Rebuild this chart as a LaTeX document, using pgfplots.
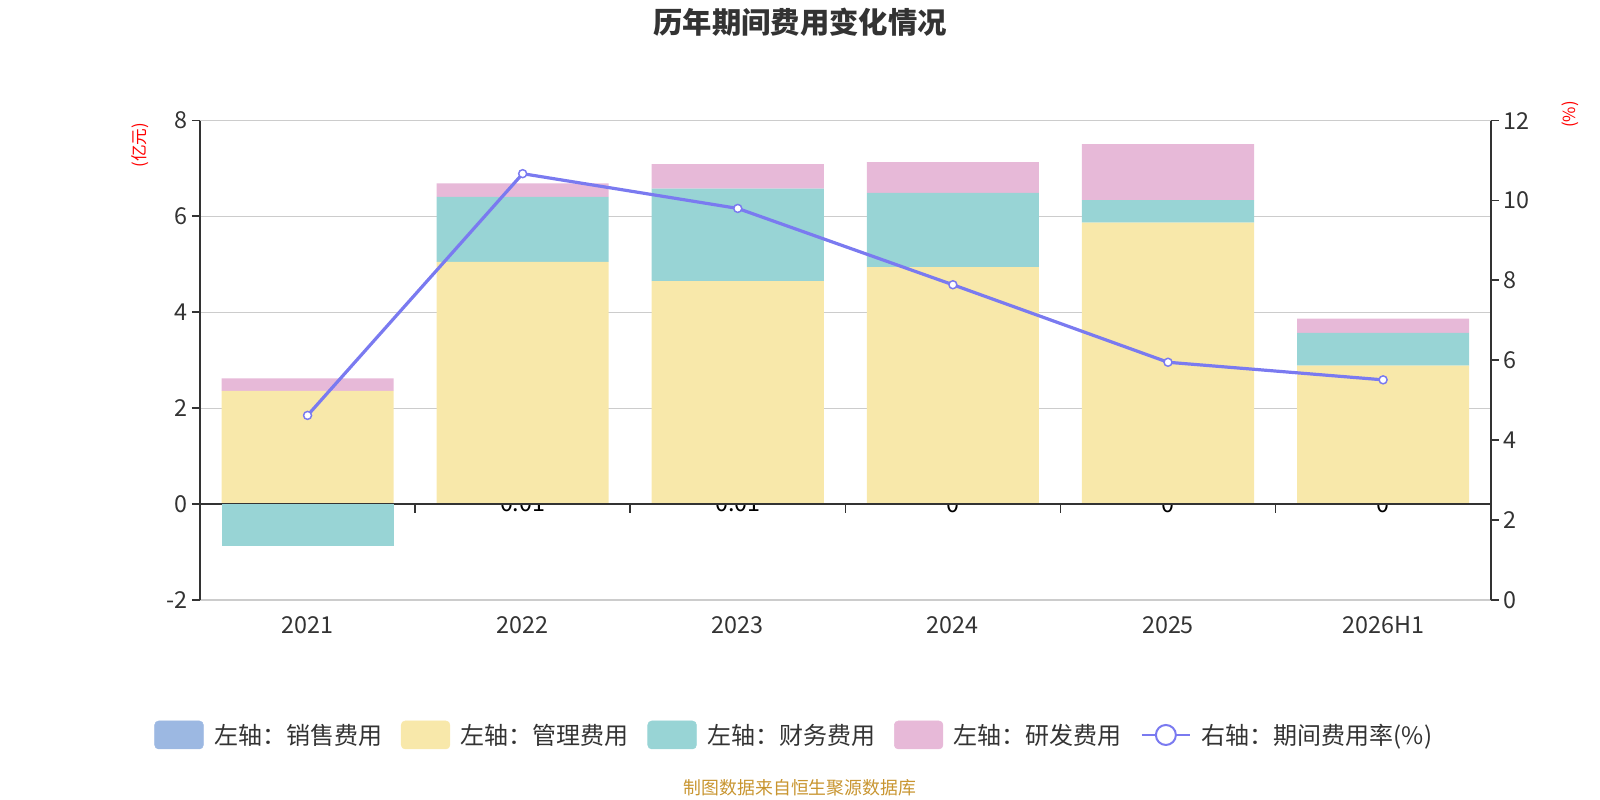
\documentclass[border=0pt]{standalone}
\usepackage{fontspec}
\setmainfont{Noto Sans CJK SC}
\usepackage{pgfplots}
\usepackage{pgfplotstable}
\pgfplotsset{compat=1.18}

\definecolor{salesc}{HTML}{9CB8E2}
\definecolor{mgmtc}{HTML}{F8E8AA}
\definecolor{finc}{HTML}{98D4D5}
\definecolor{rdc}{HTML}{E7B9D8}
\definecolor{linec}{HTML}{7A7AF0}
\definecolor{axc}{HTML}{333333}
\definecolor{gridc}{HTML}{CCCCCC}
\definecolor{footc}{HTML}{C89530}

\pgfplotstableread{
x sales mgmt fin rd rate lab
0 0    2.36 0    0.26 4.62  -0.00
1 0.01 5.04 1.36 0.28 10.67 0.01
2 0.01 4.64 1.93 0.51 9.80  0.01
3 0    4.94 1.55 0.64 7.89  0
4 0    5.87 0.47 1.17 5.95  0
5 0    2.89 0.68 0.30 5.51  0
}\data

\pgfplotsset{
  common/.style={
    at={(150pt,150pt)}, anchor=south west,
    scale only axis, width=968pt, height=359.6pt,
    xmin=-0.5, xmax=5.5,
    tick label style={font=\fontsize{17.5}{19}\selectfont, text=axc},
    /pgf/number format/assume math mode=true,
    tick align=outside, major tick length=6pt,
  }
}

\begin{document}
\begin{tikzpicture}
\path[use as bounding box] (0,0) rectangle (1200pt,600pt);

% sales value labels (drawn first, so the bars cover them partly)
\begin{axis}[common,
  ymin=-2, ymax=8, hide axis,
]
\addplot[draw=none, mark=none, nodes near coords, point meta=explicit symbolic,
  every node near coord/.style={anchor=center, font=\fontsize{17.5}{19}\selectfont, text=black}]
  table[x=x, y=sales, meta=lab] {\data};
\end{axis}

% main axis: stacked bars, left scale
\begin{axis}[common,
  ymin=-2, ymax=8, ytick={-2,0,2,4,6,8},
  ybar stacked, bar width=0.8,
  xtick={0,1,2,3,4,5},
  xticklabels={2021,2022,2023,2024,2025,2026H1},
  x tick label style={yshift=-3pt},
  axis x line*=bottom, x axis line style={draw=none},
  x tick style={draw=none},
  axis y line*=left,
  y axis line style={-, axc, line width=1.4pt},
  y tick style={axc, line width=1.4pt},
  ymajorgrids, grid style={gridc, line width=0.9pt},
]
\draw[axc, line width=1.4pt] (axis cs:-0.5,0) -- (axis cs:5.5,0);
\draw[axc, line width=1.1pt] (axis cs:0.5,0) -- ([yshift=-6.5pt]axis cs:0.5,0);
\draw[axc, line width=1.1pt] (axis cs:1.5,0) -- ([yshift=-6.5pt]axis cs:1.5,0);
\draw[axc, line width=1.1pt] (axis cs:2.5,0) -- ([yshift=-6.5pt]axis cs:2.5,0);
\draw[axc, line width=1.1pt] (axis cs:3.5,0) -- ([yshift=-6.5pt]axis cs:3.5,0);
\draw[axc, line width=1.1pt] (axis cs:4.5,0) -- ([yshift=-6.5pt]axis cs:4.5,0);
\addplot[fill=salesc, draw=none] table[x=x, y=sales] {\data};
\addplot[fill=mgmtc, draw=none] table[x=x, y=mgmt] {\data};
\addplot[fill=finc, draw=none] table[x=x, y=fin] {\data};
\addplot[fill=rdc, draw=none] table[x=x, y=rd] {\data};
\end{axis}

% negative finance bar (stacked separately below zero)
\begin{axis}[common,
  ymin=-2, ymax=8, hide axis,
  ybar, bar width=0.8, bar shift=0pt,
]
\addplot[fill=finc, draw=none] coordinates {(0,-0.87)};
\end{axis}

% right axis: ratio line and legend
\begin{axis}[common,
  ymin=0, ymax=12, ytick={0,2,4,6,8,10,12},
  axis x line=none,
  axis y line*=right,
  y axis line style={-, axc, line width=1.4pt},
  y tick style={axc, line width=1.4pt},
  legend columns=5,
  legend cell align=left,
  legend style={draw=none, fill=none, at={(0.4597,-0.2815)}, anchor=center,
    font=\fontsize{18}{20}\selectfont, text=axc,
    nodes={inner sep=0pt},
    /tikz/every odd column/.append style={column sep=8pt},
    /tikz/every even column/.append style={column sep=14pt}},
]
\addlegendimage{legend image code/.code={\fill[salesc, rounded corners=3pt] (0pt,-10.5pt) rectangle (36.5pt,10.5pt);}}
\addlegendentry{左轴：销售费用}
\addlegendimage{legend image code/.code={\fill[mgmtc, rounded corners=3pt] (0pt,-10.5pt) rectangle (36.5pt,10.5pt);}}
\addlegendentry{左轴：管理费用}
\addlegendimage{legend image code/.code={\fill[finc, rounded corners=3pt] (0pt,-10.5pt) rectangle (36.5pt,10.5pt);}}
\addlegendentry{左轴：财务费用}
\addlegendimage{legend image code/.code={\fill[rdc, rounded corners=3pt] (0pt,-10.5pt) rectangle (36.5pt,10.5pt);}}
\addlegendentry{左轴：研发费用}
\addplot[linec, line width=2.4pt, mark=*, mark size=3pt,
  mark options={fill=white, draw=linec, line width=1.1pt},
  legend image code/.code={
    \draw[linec, line width=1.5pt] (0pt,0pt) -- (36.5pt,0pt);
    \draw[linec, line width=1.5pt, fill=white] (18.25pt,0pt) circle (7.5pt);}]
  table[x=x, y=rate] {\data};
\addlegendentry{右轴：期间费用率(\%)}
\end{axis}

\node[font=\bfseries\fontsize{22}{24}\selectfont, text=axc] at (600pt,583pt) {历年期间费用变化情况};
\node[font=\fontsize{12.5}{14}\selectfont, text=red, rotate=90] at (105pt,491pt) {(亿元)};
\node[font=\fontsize{12.5}{14}\selectfont, text=red, rotate=90] at (1178pt,514pt) {(\%)};
\node[font=\fontsize{13.4}{15}\selectfont, text=footc] at (600pt,9pt) {制图数据来自恒生聚源数据库};
\end{tikzpicture}
\end{document}
